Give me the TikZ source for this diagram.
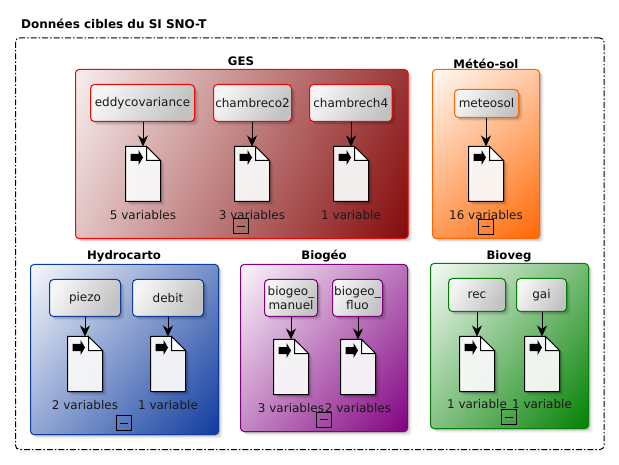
\documentclass[tikz,border=0pt]{standalone}
\usepackage{fontspec}
\setmainfont{DejaVu Sans}
\usetikzlibrary{arrows.meta,shadows}
\definecolor{gesred}{HTML}{800000}
\definecolor{meteoorange}{HTML}{FF6600}
\definecolor{hydroblue}{HTML}{0D3A9E}
\definecolor{biopurple}{HTML}{800080}
\definecolor{vegreen}{HTML}{008000}
\colorlet{fadeend}{black}
\pgfdeclareverticalshading[fadeend]{groupfade}{100bp}{color(0bp)=(fadeend); color(14bp)=(fadeend); color(88bp)=(white); color(100bp)=(white)}
\tikzset{
  softshadow/.style={general shadow={shadow xshift=1pt,shadow yshift=-1pt,opacity=.16,fill=black},
    general shadow={shadow xshift=2.5pt,shadow yshift=-2.5pt,opacity=.1,fill=black},
    general shadow={shadow xshift=4pt,shadow yshift=-4pt,opacity=.06,fill=black}},
  groupbox/.style={draw=#1,line width=1pt,rounded corners=3.5pt,inner sep=0pt,softshadow,
    /utils/exec={\colorlet{fadeend}{#1}},shade,shading=groupfade,shading angle=50},
  sensorbox/.style={draw=#1,line width=1pt,rounded corners=4pt,inner sep=0pt,softshadow,align=center,
    font=\fontsize{12}{13.7}\selectfont,text=black!90,
    top color=white!96!black,bottom color=white!76!black,shading angle=60},
  grouptitle/.style={font=\fontsize{11.7}{14}\selectfont\bfseries,inner sep=0pt},
  countlabel/.style={font=\fontsize{12}{14}\selectfont,text=black!90,inner sep=0pt},
  docbody/.style={minimum width=35pt,minimum height=55pt,inner sep=0pt,outer sep=0pt},
  collapsebox/.style={draw=black,line width=1pt,minimum size=15pt,inner sep=0pt,outer sep=0pt},
  feed/.style={line width=1pt,-{Stealth[length=11pt,width=10pt,inset=3.5pt]}}
}
\begin{document}
\begin{tikzpicture}[x=1pt,y=-1pt]
 \useasboundingbox (0,0) rectangle (619,465);
 % outer frame
 \node[draw=black,fill=white,line width=1pt,dash pattern=on 6pt off 2pt on 1.5pt off 2pt,rounded corners=4pt,
   minimum width=588.5pt,minimum height=411.5pt,inner sep=0pt,
   general shadow={shadow xshift=4pt,shadow yshift=-4pt,opacity=.03,fill=black}] (frame) at (309.75,243.75) {};
 \node[anchor=base west,font=\fontsize{12}{14}\selectfont\bfseries,inner sep=0pt] (title) at (21,29) {Données cibles du SI SNO-T};
 % groups
 \node[groupbox=gesred,draw=red,minimum width=332.5pt,minimum height=169pt,shading angle=65] (ges) at (241.75,154) {};
 \node[groupbox=meteoorange,minimum width=107pt,minimum height=169pt,shading angle=40] (meteo) at (486,154) {};
 \node[groupbox=hydroblue,minimum width=188pt,minimum height=170pt] (hydro) at (124.5,349.5) {};
 \node[groupbox=biopurple,minimum width=167pt,minimum height=167pt] (biogeo) at (324,348) {};
 \node[groupbox=vegreen,minimum width=158pt,minimum height=165pt] (bioveg) at (509.5,346) {};
 \node[grouptitle] (gestitle) at (241,61.5) {GES};
 \node[grouptitle] (meteotitle) at (486,64) {Météo-sol};
 \node[grouptitle] (hydrotitle) at (124,256.5) {Hydrocarto};
 \node[grouptitle] (biogeotitle) at (324,256.5) {Biogéo};
 \node[grouptitle] (biovegtitle) at (509,256.5) {Bioveg};
 % sensors
 \node[sensorbox=red,minimum width=104pt,minimum height=37pt] (eddy) at (142.5,103) {eddycovariance};
 \node[sensorbox=red,minimum width=78pt,minimum height=37pt] (co2) at (252.5,103) {chambreco2};
 \node[sensorbox=red,minimum width=82.5pt,minimum height=37pt] (ch4) at (350.75,103) {chambrech4};
 \node[sensorbox=meteoorange,minimum width=64pt,minimum height=28pt] (meteosol) at (486.5,103.5) {meteosol};
 \node[sensorbox=hydroblue,minimum width=71pt,minimum height=37pt] (piezo) at (85,298) {piezo};
 \node[sensorbox=hydroblue,minimum width=71pt,minimum height=37pt] (debit) at (168,298) {debit};
 \node[sensorbox=biopurple,minimum width=53pt,minimum height=37pt] (manuel) at (291,298) {biogeo\_\\manuel};
 \node[sensorbox=biopurple,minimum width=50pt,minimum height=37pt] (fluo) at (357.5,298) {biogeo\_\\fluo};
 \node[sensorbox=vegreen,minimum width=57pt,minimum height=33pt] (rec) at (477,295) {rec};
 \node[sensorbox=vegreen,minimum width=50pt,minimum height=33pt] (gai) at (541.5,295) {gai};
 % files, each one fed by its sensor
 \foreach \name/\src/\x/\y in {eddyfile/eddy/143/174, co2file/co2/252/174, ch4file/ch4/351/174,
   meteofile/meteosol/486/174, piezofile/piezo/85/364, debitfile/debit/168/364,
   manuelfile/manuel/291/367, fluofile/fluo/358/367, recfile/rec/477/364, gaifile/gai/542/364}{
   \node[docbody] (\name) at (\x,\y) {};
   \draw[draw=black,line width=1pt,fill=white,fill opacity=.92,softshadow] (\name.north west)--([xshift=21pt]\name.north west)
     --([yshift=-14pt]\name.north east)--(\name.south east)--(\name.south west)--cycle;
   \draw[draw=black,line width=1pt,fill=white] ([xshift=21pt]\name.north west)--([xshift=21pt,yshift=-14pt]\name.north west)
     --([yshift=-14pt]\name.north east)--cycle;
   \fill[black] ([xshift=5pt,yshift=-7.5pt]\name.north west)--([xshift=13pt,yshift=-7.5pt]\name.north west)
     --([xshift=13pt,yshift=-3.5pt]\name.north west)--([xshift=17.5pt,yshift=-11pt]\name.north west)
     --([xshift=13pt,yshift=-18.5pt]\name.north west)--([xshift=13pt,yshift=-14.5pt]\name.north west)
     --([xshift=5pt,yshift=-14.5pt]\name.north west)--cycle;
   \draw[feed] (\src.south-|\name.north) -- (\name.north);
 }
 % counts
 \node[countlabel] (eddycount) at (143,215) {5 variables};
 \node[countlabel] (co2count) at (252,215) {3 variables};
 \node[countlabel] (ch4count) at (351,215) {1 variable};
 \node[countlabel] (meteocount) at (486,215) {16 variables};
 \node[countlabel] (piezocount) at (85,405) {2 variables};
 \node[countlabel] (debitcount) at (168,405) {1 variable};
 \node[countlabel] (manuelcount) at (291,408) {3 variables};
 \node[countlabel] (fluocount) at (358,408) {2 variables};
 \node[countlabel] (reccount) at (477,404) {1 variable};
 \node[countlabel] (gaicount) at (542,404) {1 variable};
 % collapse marks
 \foreach \name/\x/\y in {gesmark/241/226.5, meteomark/486/227, hydromark/124/423, biogeomark/324/419.5, biovegmark/509/417}{
   \node[collapsebox] (\name) at (\x,\y) {};
   \draw[line width=1pt] ([xshift=-4pt]\name.center)--([xshift=4pt]\name.center);
 }
\end{tikzpicture}
\end{document}
